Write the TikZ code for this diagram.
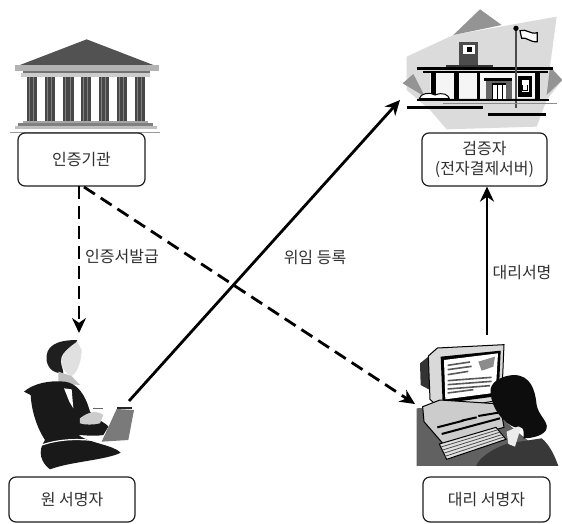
\documentclass[tikz,border=0pt]{standalone}
\usepackage{fontspec}
\setmainfont{Noto Sans CJK KR}
\usetikzlibrary{arrows.meta,calc}
\definecolor{ink}{HTML}{1E1E1E}
\definecolor{txt}{HTML}{303030}
\tikzset{
  labelbox/.style={draw=ink,line width=1.2pt,rounded corners=7pt,fill=white,align=center,text=txt,font=\fontsize{16}{20}\selectfont,inner sep=0pt},
  flowlabel/.style={text=txt,font=\fontsize{16}{19}\selectfont,inner sep=0pt},
  solidarrow/.style={draw=black,line width=2.8pt,-{Stealth[length=15pt,width=14pt]}},
  dasharrow/.style={draw=black,line width=2.8pt,dash pattern=on 13pt off 7pt,-{Stealth[length=15pt,width=14pt]}},
}
\begin{document}
\begin{tikzpicture}[x=1pt,y=-1pt]
\useasboundingbox (0,0) rectangle (562,523);
\fill[white] (0,0) rectangle (562,523);

% bank
\begin{scope}[shift={(0,20)},x=0.3333pt,y=-0.3333pt]
 \fill[black!68] (260,58) -- (460,135) -- (60,135) -- cycle;
 \fill[black!30] (45,135) -- (478,135) -- (478,152) -- (45,152) -- cycle;
 \fill[black!55] (70,152) rectangle (450,160);
 \fill[black!20] (62,160) rectangle (450,172);
 \foreach \cx in {80,135,190,243,297,350,405}{
   \fill[black!72] (\cx,172) rectangle ++(31,130);
   \fill[black!50] (\cx+6,172) rectangle ++(3,130);
   \fill[black!50] (\cx+19,172) rectangle ++(3,130);
 }
 \fill[black!35] (70,302) rectangle (445,310);
 \fill[black!50] (55,310) rectangle (460,318);
 \fill[black!25] (45,318) rectangle (470,328);
 \fill[black!40] (30,336) rectangle (480,340);
\end{scope}

% station
\begin{scope}[shift={(380,0)},x=0.3333pt,y=-0.3333pt]
 \fill[black!14] (80,170) -- (220,105) -- (530,50) -- (510,200) -- (547,240) -- (500,300) -- (470,380) -- (200,388) -- (150,330) -- (80,270) -- cycle;
 \fill[black!42] (300,28) -- (365,75) -- (220,105) -- cycle;
 \fill[black!42] (68,250) -- (100,222) -- (135,290) -- cycle;
 \fill[black!42] (547,240) -- (510,200) -- (500,285) -- cycle;
 \fill[black!4] (150,215) rectangle (470,295);
 \fill[black!70] (238,125) rectangle (295,195);
 \fill[white] (250,135) rectangle (285,162);
 \fill[black] (260,140) rectangle (275,155);
 \fill[black!80] (198,195) rectangle (340,205);
 \fill[black] (112,202) rectangle (518,209);
 \fill[black] (130,214) rectangle (505,220);
 \fill[black] (152,220) rectangle (168,296);
 \fill[black] (222,220) rectangle (238,296);
 \fill[black] (290,220) rectangle (300,296);
 \fill[black] (465,220) rectangle (480,296);
 \fill[black] (312,235) rectangle (395,243);
 \fill[black!60] (318,243) rectangle (395,296);
 \fill[white] (335,252) rectangle (378,296);
 \foreach \dx in {335,350,365}{\fill[black] (\dx,252) rectangle ++(5,44);}
 \fill[black] (335,250) rectangle (378,256);
 \fill[black] (415,228) rectangle (455,290);
 \fill[white] (425,240) rectangle (447,276);
 \draw[black,line width=1pt] (428,255) -- (428,272) -- (444,272) -- (444,255);
 \fill[black!70] (405,85) rectangle (412,325);
 \fill[black] (408,85) circle (8);
 \draw[black,line width=1.2pt,fill=white] (420,92) .. controls (440,85) and (450,105) .. (472,98) -- (472,125) .. controls (450,128) and (440,110) .. (425,115) -- cycle;
 \draw[black,line width=1pt,fill=white] (118,296) .. controls (120,280) and (150,275) .. (165,285) .. controls (190,275) and (205,285) .. (208,296) -- cycle;
 \fill[black] (112,296) rectangle (508,303);
 \fill[black!45] (190,309) rectangle (530,313);
 \fill[black] (80,318) rectangle (308,326);
 \fill[black] (325,338) rectangle (498,347);
\end{scope}

% principal signer
\begin{scope}[shift={(0,340)},x=0.3333pt,y=-0.3333pt]
 \fill[black!88] (140,62) .. controls (135,20) and (165,0) .. (232,0) .. controls (225,20) and (195,25) .. (185,50) .. controls (178,70) and (190,85) .. (190,100) .. controls (165,100) and (145,90) .. (140,62) -- cycle;
 \fill[black!12] (232,5) .. controls (205,22) and (188,40) .. (185,60) .. controls (185,85) and (195,100) .. (215,108) .. controls (232,100) and (245,60) .. (245,30) -- cycle;
 \fill[black!25] (175,95) -- (215,108) -- (240,135) -- (175,130) -- cycle;
 \fill[black!90] (72,155) .. controls (100,130) and (150,120) .. (195,125) .. controls (230,130) and (255,160) .. (270,215) .. controls (290,240) and (320,250) .. (325,260) -- (310,285) .. controls (280,290) and (250,285) .. (235,285) .. controls (270,310) and (340,315) .. (362,338) .. controls (320,360) and (210,365) .. (150,388) .. controls (125,370) and (110,335) .. (135,300) .. controls (115,270) and (95,220) .. (92,165) -- cycle;
 \fill[white] (192,145) -- (215,148) -- (220,205) -- (208,185) -- cycle;
 \draw[white,line width=1.2pt] (125,315) .. controls (200,290) and (260,300) .. (330,305);
 \fill[black!20] (240,235) .. controls (265,215) and (290,210) .. (310,225) -- (300,250) .. controls (280,255) and (255,255) .. (240,250) -- cycle;
 \fill[black!52] (350,207) -- (402,210) -- (385,300) -- (305,305) -- cycle;
 \fill[black!85] (350,202) rectangle (395,207);
 \draw[black!60,line width=.8pt] (280,205) -- (310,205);
\end{scope}

% proxy signer
\begin{scope}[shift={(400,340)},x=0.3333pt,y=-0.3333pt]
 \fill[black!62] (50,205) -- (130,200) -- (310,240) -- (475,378) -- (50,378) -- cycle;
 \fill[black!80] (60,70) -- (85,50) -- (90,150) -- (62,135) -- cycle;
 \filldraw[fill=black!15,draw=black,line width=1pt] (85,48) -- (112,24) -- (312,14) -- (305,180) -- (122,208) -- (90,178) -- cycle;
 \fill[black] (122,50) -- (302,32) -- (296,168) -- (128,190) -- cycle;
 \fill[white] (132,60) -- (294,40) -- (287,158) -- (136,178) -- cycle;
 \fill[black!45] (235,65) -- (285,50) -- (280,80) -- (245,92) -- cycle;
 \foreach \ya/\xe in {72/210,85/215,100/205,118/275,130/275,143/270,155/220}{
   \draw[black!65,line width=1.6pt] (143,\ya+4) -- (\xe,\ya-6);
 }
 \filldraw[fill=black!20,draw=black,line width=1pt] (68,200) -- (120,180) -- (300,192) -- (312,262) -- (130,312) -- (72,245) -- cycle;
 \draw[black,line width=2pt] (112,262) -- (190,242);
 \draw[black,line width=2pt] (125,282) -- (300,235);
 \draw[black,line width=2pt] (185,242) -- (230,232);
 \draw[black,line width=2pt] (235,228) -- (295,218);
 \filldraw[fill=black!12,draw=black,line width=1pt] (118,312) -- (288,262) -- (318,298) -- (140,358) -- cycle;
 \foreach \t in {.2,.4,.6,.8}{
   \draw[black!70,line width=.8pt] ($(118,312)!\t!(140,358)$) -- ($(288,262)!\t!(318,298)$);
 }
 \fill[black!78] (228,378) .. controls (240,350) and (280,325) .. (325,310) -- (425,295) .. controls (450,315) and (465,350) .. (475,378) -- cycle;
 \fill[black!8] (320,275) -- (365,255) -- (345,320) -- (325,312) -- cycle;
 \fill[black!95] (272,160) .. controls (265,125) and (310,105) .. (345,105) .. controls (390,108) and (405,145) .. (410,195) .. controls (415,225) and (445,245) .. (440,265) .. controls (435,285) and (400,295) .. (370,295) .. controls (375,265) and (365,255) .. (345,262) .. controls (310,250) and (275,205) .. (272,160) -- cycle;
\end{scope}

% label boxes
\node[labelbox,minimum width=127pt,minimum height=53pt] (ca) at (81.5,159.5) {인증기관};
\node[labelbox,minimum width=125pt,minimum height=53pt] (verifier) at (484.5,159.5) {검증자\\(전자결제서버)};
\node[labelbox,minimum width=126pt,minimum height=45pt] (orig) at (72,499.5) {원 서명자};
\node[labelbox,minimum width=127pt,minimum height=45pt] (proxy) at (486.5,499.5) {대리 서명자};

% connector ends
\coordinate (caS) at (79,186);
\coordinate (caD) at (84,187);
\coordinate (womanT) at (79,333);
\coordinate (womanH) at (129,401);
\coordinate (stationT) at (400,100);
\coordinate (pcL) at (415,404);
\coordinate (pcT) at (487,335);

\draw[dasharrow] (caS) -- (womanT);
\draw[dasharrow] (caD) -- (pcL);
\draw[solidarrow] (womanH) -- (stationT);
\draw[solidarrow] (pcT) -- (verifier.south -| pcT);

\node[flowlabel] (l1) at (122,257) {인증서발급};
\node[flowlabel] (l2) at (315,258) {위임 등록};
\node[flowlabel] (l3) at (522,273) {대리서명};
\end{tikzpicture}
\end{document}
